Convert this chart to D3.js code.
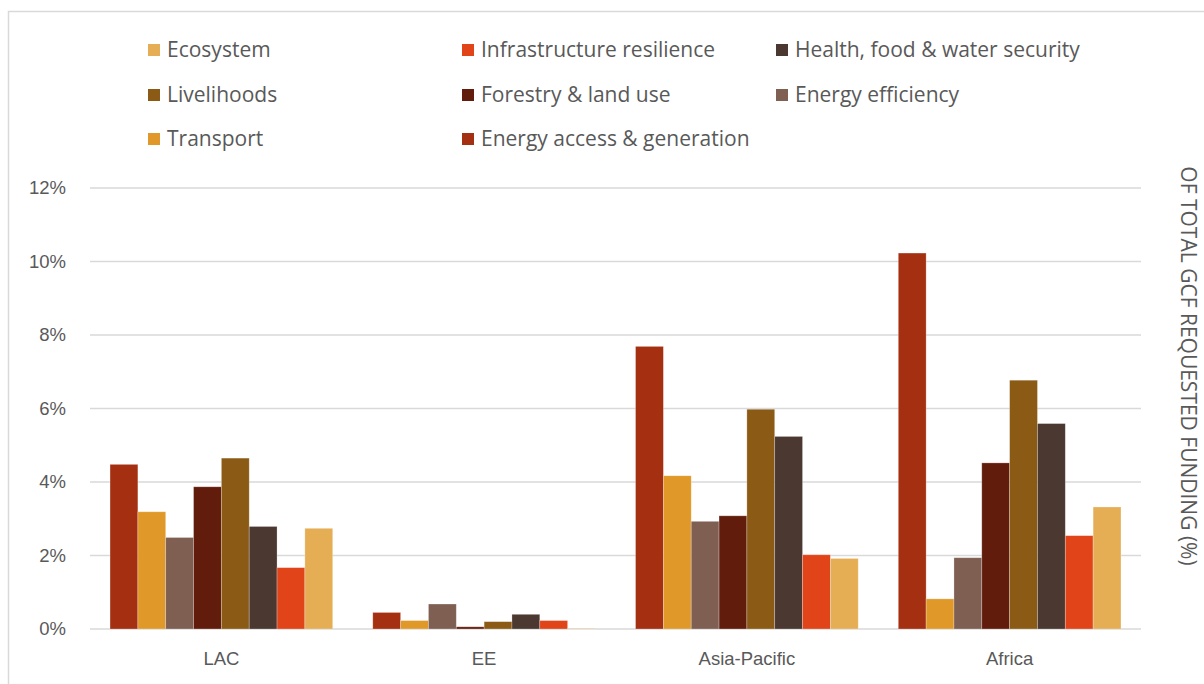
<!DOCTYPE html>
<html>
<head>
<meta charset="utf-8">
<script src="https://cdn.jsdelivr.net/npm/d3@7"></script>
<style>
  body { margin: 0; background: #fff; }
  svg { display: block; font-family: "Open Sans", Lato, sans-serif; }
  .tick-label { fill: #595959; font-size: 18.5px; }
  .y-title { fill: #595959; font-size: 21px; }
  .legend-label { fill: #595959; font-size: 21px; }
</style>
</head>
<body>
<div id="svg-container"></div>
<script>
// data
const regions = ["LAC", "EE", "Asia-Pacific", "Africa"];
const sectors = [
  "Energy access & generation",
  "Transport",
  "Energy efficiency",
  "Forestry & land use",
  "Livelihoods",
  "Health, food & water security",
  "Infrastructure resilience",
  "Ecosystem"
];
// percent of total GCF requested funding, per region, in sector order
const lacValues = [4.48, 3.19, 2.49, 3.87, 4.65, 2.79, 1.67, 2.74];
const eeValues = [0.45, 0.23, 0.68, 0.06, 0.2, 0.4, 0.23, 0.01];
const asiaValues = [7.69, 4.17, 2.93, 3.08, 5.98, 5.24, 2.02, 1.92];
const africaValues = [10.23, 0.82, 1.94, 4.52, 6.77, 5.59, 2.54, 3.32];
const yTicks = [0, 2, 4, 6, 8, 10, 12];
const legendOrder = [
  "Ecosystem", "Infrastructure resilience", "Health, food & water security",
  "Livelihoods", "Forestry & land use", "Energy efficiency",
  "Transport", "Energy access & generation"
];
const yTitle = "OF TOTAL GCF REQUESTED FUNDING (%)";

const colors = [
  "#a52f11", "#e09828", "#7f5f52", "#621c0b",
  "#8b5a14", "#4a3831", "#e04418", "#e5ad54"
];

const valuesByRegion = [lacValues, eeValues, asiaValues, africaValues];
const data = regions.map((r, i) => ({
  region: r,
  values: sectors.map((s, j) => ({ sector: s, value: valuesByRegion[i][j] }))
}));

////////////////////////////////////////////////////////////////////
////////////////////////////  Init  ///////////////////////////////
const width = 1204;
const height = 684;
const margin = { top: 188, right: 63, bottom: 55, left: 90 };

const svg = d3.select("#svg-container").append("svg")
  .attr("width", width).attr("height", height);

// chart frame
svg.append("rect")
  .attr("x", 8.5).attr("y", 11.5)
  .attr("width", width + 10).attr("height", height + 10)
  .attr("fill", "none").attr("stroke", "#d9d9d9").attr("stroke-width", 1.5);

// scales
const x0 = d3.scaleBand()
  .domain(regions)
  .range([margin.left, width - margin.right]);

const x1 = d3.scaleBand()
  .domain(sectors)
  .range([0, x0.bandwidth()])
  .paddingOuter(0.72);

const y = d3.scaleLinear()
  .domain([0, 12])
  .range([height - margin.bottom, margin.top]);

const color = d3.scaleOrdinal().domain(sectors).range(colors);

// gridlines
svg.append("g")
  .selectAll("line")
  .data(yTicks)
  .enter()
  .append("line")
  .attr("x1", margin.left)
  .attr("x2", width - margin.right)
  .attr("y1", (d) => y(d))
  .attr("y2", (d) => y(d))
  .attr("stroke", "#d9d9d9")
  .attr("stroke-width", 1.5);

// y axis labels
const yAxis = d3.axisLeft(y)
  .tickValues(yTicks)
  .tickSize(0)
  .tickPadding(24)
  .tickFormat((d) => d + "%");

const yAxisGroup = svg.append("g")
  .attr("transform", `translate(${margin.left},0)`)
  .call(yAxis);
yAxisGroup.select(".domain").remove();
yAxisGroup.selectAll("text")
  .attr("class", "tick-label")
  .attr("font-family", null)
  .attr("font-size", null)
  .attr("fill", null);

// x axis labels
const xAxis = d3.axisBottom(x0).tickSize(0).tickPadding(23);
const xAxisGroup = svg.append("g")
  .attr("transform", `translate(0,${y(0)})`)
  .call(xAxis);
xAxisGroup.select(".domain").remove();
xAxisGroup.selectAll("text")
  .attr("class", "tick-label")
  .attr("font-family", null)
  .attr("font-size", null)
  .attr("fill", null);

// bars
const groups = svg.append("g")
  .selectAll("g")
  .data(data)
  .enter()
  .append("g")
  .attr("transform", (d) => `translate(${x0(d.region)},0)`);

groups.selectAll("rect")
  .data((d) => d.values)
  .enter()
  .append("rect")
  .attr("x", (d) => x1(d.sector))
  .attr("y", (d) => y(d.value))
  .attr("width", x1.bandwidth())
  .attr("height", (d) => y(0) - y(d.value))
  .attr("fill", (d) => color(d.sector))
  .attr("stroke", "#fff")
  .attr("stroke-opacity", 0.35)
  .attr("stroke-width", 0.75);

// right-side title
svg.append("text")
  .attr("transform", `translate(1181, 366) rotate(90)`)
  .attr("text-anchor", "middle")
  .attr("class", "y-title")
  .text(yTitle);

// legend
const legendCols = [148, 462, 776];
const legendRows = [50, 95, 139];

const legend = svg.append("g")
  .selectAll("g")
  .data(legendOrder)
  .enter()
  .append("g")
  .attr("transform", (d, i) =>
    `translate(${legendCols[i % 3]},${legendRows[Math.floor(i / 3)]})`);

legend.append("rect")
  .attr("x", 0)
  .attr("y", -6)
  .attr("width", 12)
  .attr("height", 12)
  .attr("fill", (d) => color(d));

legend.append("text")
  .attr("x", 19)
  .attr("y", 0)
  .attr("dy", "0.35em")
  .attr("class", "legend-label")
  .text((d) => d);
</script>
</body>
</html>
